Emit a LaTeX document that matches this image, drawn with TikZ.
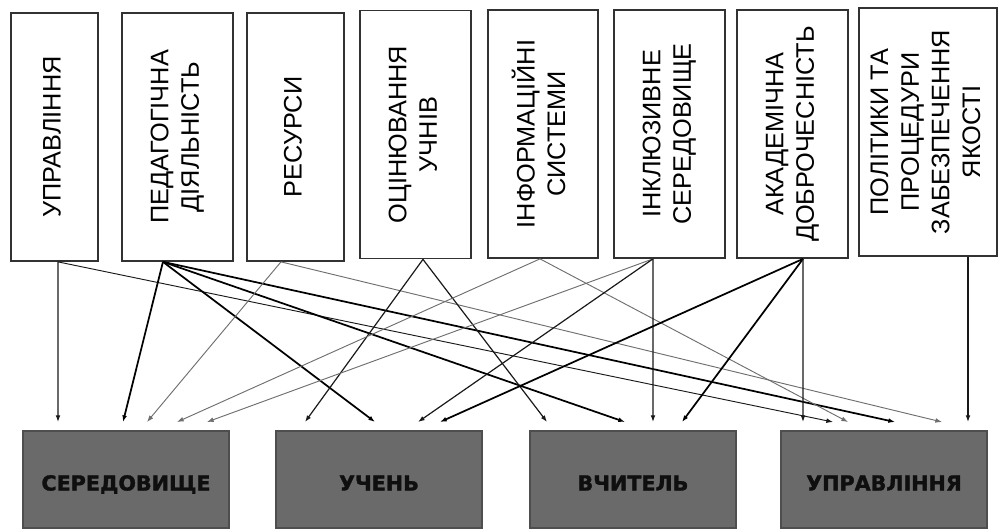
\documentclass[tikz,border=0pt]{standalone}
\usepackage{graphicx}
\usepackage{fontspec}
\setmainfont{Liberation Sans}
\newfontfamily\widefont[BoldFeatures={FakeBold=1.6}]{DejaVu Sans}
\usetikzlibrary{arrows.meta}

\newcommand{\vtext}[1]{\rotatebox{90}{\begin{tabular}{@{}c@{}}#1\end{tabular}}}

\tikzset{
  factor/.style={draw={rgb, 255:red, 50; green, 50; blue, 50}, line width=1.3pt, fill=white,
    inner sep=0pt, minimum height=186pt, font=\fontsize{19}{23}\selectfont},
  target/.style={draw={rgb, 255:red, 78; green, 78; blue, 78}, line width=1.6pt,
    fill={rgb, 255:red, 106; green, 106; blue, 106}, minimum width=154.5pt, minimum height=72.75pt,
    outer ysep=6.75pt, text height=16.5pt, text depth=0pt, text={rgb, 255:red, 15; green, 15; blue, 15},
    font=\widefont\bfseries\fontsize{15.5}{18}\selectfont},
  link/.style={-{Latex[length=5pt,width=3.6pt]}, line width=0.9pt, draw={rgb, 255:red, 25; green, 25; blue, 25}},
  boldlink/.style={link, line width=1.3pt, draw=black},
  thinlink/.style={link, line width=0.7pt, draw={rgb, 255:red, 110; green, 110; blue, 110}}
}

\begin{document}
\begin{tikzpicture}[x=0.75pt,y=0.75pt,yscale=-1,xscale=1]
\useasboundingbox (0,0) rectangle (998,528);

% Factors
\node[factor, minimum width=65.25pt] (upr) at (54.5,137) {\vtext{УПРАВЛІННЯ}};
\node[factor, minimum width=83.25pt] (ped) at (177.5,137) {\vtext{ПЕДАГОГІЧНА\\ДІЯЛЬНІСТЬ}};
\node[factor, minimum width=72.75pt] (res) at (295.5,137) {\vtext{РЕСУРСИ}};
\node[factor, minimum width=83.25pt] (ots) at (415.5,134.5) {\vtext{ОЦІНЮВАННЯ\\УЧНІВ}};
\node[factor, minimum width=82.5pt] (inf) at (543,134) {\vtext{ІНФОРМАЦІЙНІ\\СИСТЕМИ}};
\node[factor, minimum width=83.25pt] (inkl) at (669.5,134) {\vtext{ІНКЛЮЗИВНЕ\\СЕРЕДОВИЩЕ}};
\node[factor, minimum width=83.25pt] (akad) at (792.5,134) {\vtext{АКАДЕМІЧНА\\ДОБРОЧЕСНІСТЬ}};
\node[factor, minimum width=103.5pt] (pol) at (928,132) {\vtext{ПОЛІТИКИ ТА\\ПРОЦЕДУРИ\\ЗАБЕЗПЕЧЕННЯ\\ЯКОСТІ}};

% Targets
\node[target] (ser) at (126,479.5) {СЕРЕДОВИЩЕ};
\node[target] (uch) at (379,479.5) {УЧЕНЬ};
\node[target] (vch) at (633,479.5) {ВЧИТЕЛЬ};
\node[target] (uprb) at (884,479.5) {УПРАВЛІННЯ};

% Управління
\draw[link] ([xshift=2.6pt]upr.south) -- ([xshift=-51pt]ser.north);
\draw[link, line width=0.7pt] ([xshift=2.6pt]upr.south) -- ([xshift=-38.25pt]uprb.north);
% Педагогічна діяльність
\draw[boldlink] ([xshift=-10.9pt]ped.south) -- ([xshift=-2.25pt]ser.north);
\draw[boldlink] ([xshift=-10.9pt]ped.south) -- ([xshift=-3pt]uch.north);
\draw[boldlink] ([xshift=-10.9pt]ped.south) -- ([xshift=-6pt]vch.north);
\draw[boldlink] ([xshift=-10.9pt]ped.south) -- ([xshift=8.25pt]uprb.north);
% Ресурси
\draw[thinlink] ([xshift=-10.9pt]res.south) -- ([xshift=15.75pt]ser.north);
\draw[thinlink] ([xshift=-10.9pt]res.south) -- ([xshift=43.5pt]uprb.north);
% Оцінювання учнів
\draw[link] ([xshift=5.6pt]ots.south) -- ([xshift=-55.5pt]uch.north);
\draw[link] ([xshift=5.6pt]ots.south) -- ([xshift=-64.5pt]vch.north);
% Інформаційні системи
\draw[thinlink] ([xshift=-2.25pt]inf.south) -- ([xshift=38.25pt]ser.north);
\draw[thinlink] ([xshift=-2.25pt]inf.south) -- ([xshift=-27pt]uprb.north);
% Інклюзивне середовище
\draw[thinlink] ([xshift=-12.4pt]inkl.south) -- ([xshift=60.75pt]ser.north);
\draw[link] ([xshift=-12.4pt]inkl.south) -- ([xshift=29.25pt]uch.north);
\draw[link] ([xshift=-12.4pt]inkl.south) -- ([xshift=15pt]vch.north);
% Академічна доброчесність
\draw[boldlink] ([xshift=7.9pt]akad.south) -- ([xshift=45.75pt]uch.north);
\draw[boldlink] ([xshift=7.9pt]akad.south) -- ([xshift=36.75pt]vch.north);
\draw[link] ([xshift=7.9pt]akad.south) -- ([xshift=-60.75pt]uprb.north);
% Політики та процедури
\draw[link] ([xshift=30pt]pol.south) -- ([xshift=63pt]uprb.north);

\end{tikzpicture}
\end{document}
